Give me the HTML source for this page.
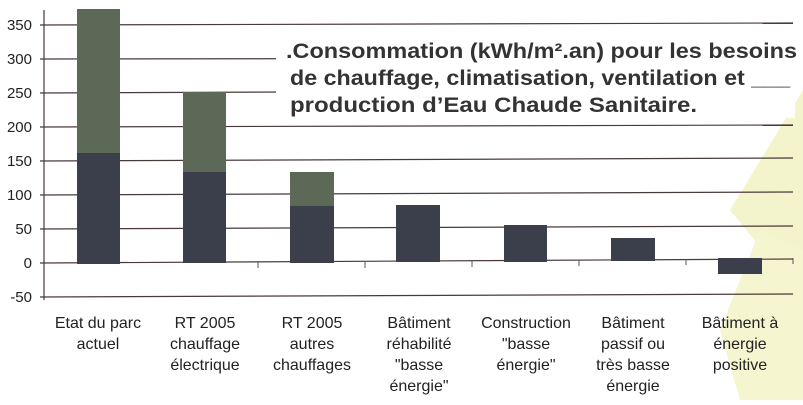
<!DOCTYPE html><html><head><meta charset="utf-8"><style>
body{margin:0;width:803px;height:400px;background:#fff;overflow:hidden;font-family:"Liberation Sans",sans-serif}
</style></head><body>
<svg width="803" height="400" xmlns="http://www.w3.org/2000/svg" font-family="Liberation Sans, sans-serif">
<polygon points="803,90 730,210 803,300" fill="#f4f4cc"/>
<polygon points="760,230 803,250 803,400 740,400 720,330" fill="#f5f5d0"/>
<g stroke="#4a3a3a" stroke-width="1.2">
<line x1="40" y1="25" x2="793" y2="23"/><line x1="40" y1="59" x2="793" y2="58"/>
<line x1="40" y1="93" x2="793" y2="90"/><line x1="40" y1="127" x2="793" y2="125"/>
<line x1="40" y1="161" x2="793" y2="158"/><line x1="40" y1="195" x2="793" y2="192"/>
<line x1="40" y1="229" x2="793" y2="226"/><line x1="40" y1="263" x2="793" y2="259"/>
<line x1="40" y1="297" x2="793" y2="294"/>
<line x1="44" y1="10" x2="44" y2="300"/>
</g>
<rect x="276" y="32" width="519" height="86" fill="#fff"/>
<g stroke="#555" stroke-width="1"><line x1="258" y1="262" x2="258" y2="268"/><line x1="365" y1="262" x2="365" y2="268"/><line x1="472" y1="261" x2="472" y2="267"/><line x1="579" y1="260" x2="579" y2="266"/><line x1="686" y1="259" x2="686" y2="265"/><line x1="793" y1="258" x2="793" y2="264"/></g>
<g fill="#3b3e4b">
<rect x="77" y="153" width="43" height="111"/><rect x="183" y="172" width="43" height="91"/>
<rect x="290" y="206" width="44" height="57"/><rect x="396" y="205" width="44" height="57"/>
<rect x="504" y="225" width="43" height="37"/><rect x="611" y="238" width="44" height="23"/>
<rect x="718" y="258" width="44" height="16"/></g>
<g fill="#5b6956"><rect x="77" y="9" width="43" height="144"/><rect x="183" y="92" width="43" height="80"/><rect x="290" y="172" width="44" height="34"/></g>
<g font-size="15" fill="#222" text-anchor="end">
<text x="32" y="30">350</text><text x="32" y="64">300</text><text x="32" y="98">250</text><text x="32" y="132">200</text><text x="32" y="166">150</text><text x="32" y="200">100</text><text x="32" y="234">50</text><text x="32" y="268">0</text><text x="32" y="302">-50</text></g>
<g font-size="21" font-weight="bold" fill="#333">
<text x="286" y="58" textLength="511" lengthAdjust="spacingAndGlyphs">.Consommation (kWh/m².an) pour les besoins</text>
<text x="290" y="85" textLength="500" lengthAdjust="spacingAndGlyphs">de chauffage, climatisation, ventilation et ___</text>
<text x="290" y="112" textLength="407" lengthAdjust="spacingAndGlyphs">production d’Eau Chaude Sanitaire.</text></g>
<g font-size="16" fill="#222" text-anchor="middle">
<text x="98" y="328">Etat du parc</text><text x="98" y="349">actuel</text>
<text x="205" y="328">RT 2005</text><text x="205" y="349">chauffage</text><text x="205" y="370">électrique</text>
<text x="312" y="328">RT 2005</text><text x="312" y="349">autres</text><text x="312" y="370">chauffages</text>
<text x="419" y="328">Bâtiment</text><text x="419" y="349">réhabilité</text><text x="419" y="370">"basse</text><text x="419" y="391">énergie"</text>
<text x="526" y="328">Construction</text><text x="526" y="349">"basse</text><text x="526" y="370">énergie"</text>
<text x="633" y="328">Bâtiment</text><text x="633" y="349">passif ou</text><text x="633" y="370">très basse</text><text x="633" y="391">énergie</text>
<text x="740" y="328">Bâtiment à</text><text x="740" y="349">énergie</text><text x="740" y="370">positive</text></g>
</svg></body></html>
